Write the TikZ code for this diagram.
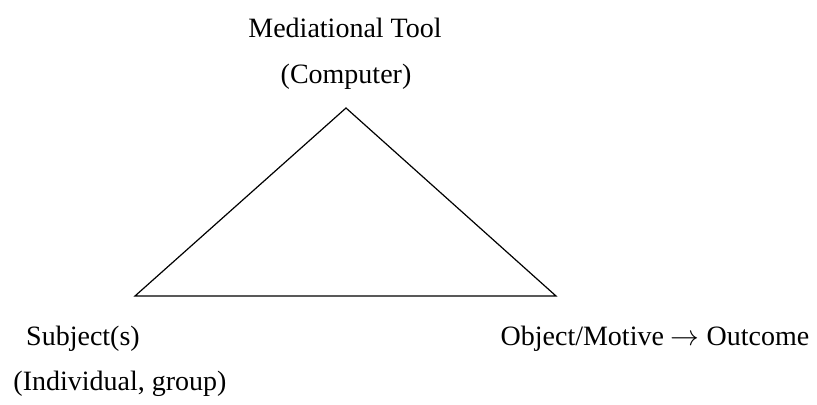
\documentclass[tikz,border=0pt]{standalone}
\usepackage{fontspec}
\setmainfont{Liberation Serif}
\usetikzlibrary{calc}

\begin{document}
\begin{tikzpicture}[x=0.5pt, y=-0.5pt, font=\fontsize{14}{17}\selectfont]
  \useasboundingbox (0,0) rectangle (817,405);
  % corners of the activity triangle
  \coordinate (tool) at (346,108);
  \coordinate (subj) at (135,296);
  \coordinate (obj)  at (556,296);
  \draw[line width=0.6pt, line join=miter] (tool) -- (subj) -- (obj) -- cycle;
  % labels
  \node (toolname) at (345,28)  {Mediational Tool};
  \node (toolkind) at (346,77)  {(Computer)};
  \node (subjname) at (83,339)  {Subject(s)};
  \node (subjkind) at (120,384) {(Individual, group)};
  \node (objname)  at (655,339) {Object/Motive $\rightarrow$ Outcome};
\end{tikzpicture}
\end{document}
